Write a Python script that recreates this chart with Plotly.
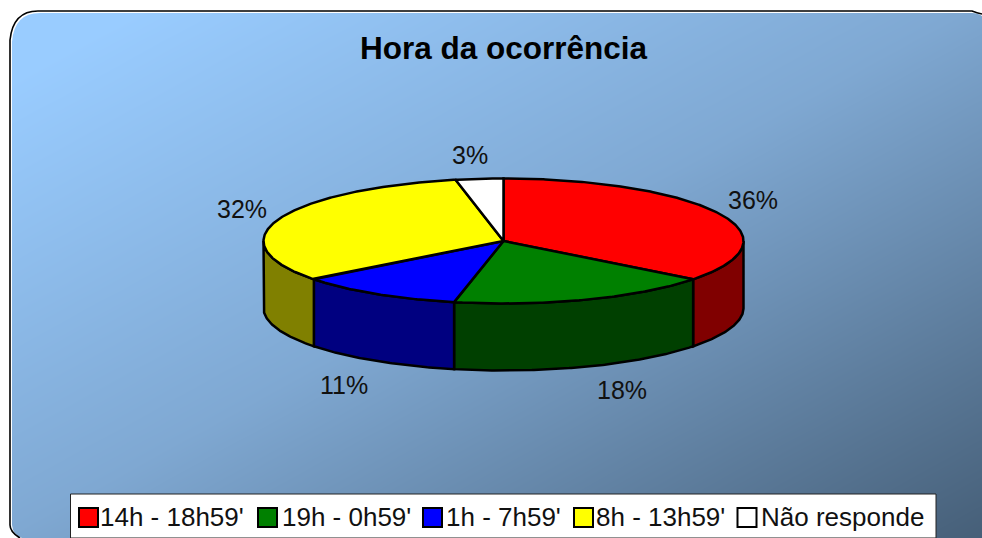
import math
import numpy as np
import plotly.graph_objects as go

# ---- data ----
categories = ["14h - 18h59'", "19h - 0h59'", "1h - 7h59'", "8h - 13h59'", "Não responde"]
values = [35.5, 17.8, 11.2, 32.3, 3.2]
title_text = "Hora da ocorrência"

# ---- styles / layout ----
top_colors = ["#FF0000", "#008000", "#0000FF", "#FFFF00", "#FFFFFF"]
side_colors = ["#800000", "#004000", "#000080", "#808000", "#808080"]
W, H = 982, 538
CX, CY, RX, RY, DEPTH = 503.5, 241, 240, 62.5, 67
LW = 2.5
label_xy = [(753, 200), (622, 390), (344, 385), (242, 209), (470, 155)]
swatch_x = [79, 258, 423, 574, 737.5]
legend_text_x = [101, 283, 447, 597, 762]
FONT = "Liberation Sans"


def pt(deg):
    a = math.radians(deg)
    return CX + RX * math.sin(a), CY - RY * math.cos(a)


def arc(a0, a1):
    n = max(2, int(abs(a1 - a0) * 2))
    return [pt(a) for a in np.linspace(a0, a1, n)]


fig = go.Figure()

# background gradient (light top-left to dark bottom-right)
gx = np.linspace(0, W, 60)
gy = np.linspace(0, H, 40)
gz = (gx[None, :] / W + gy[:, None] / H) / 2
fig.add_trace(go.Heatmap(
    x=gx, y=gy, z=gz, zmin=0, zmax=1, zsmooth="best", showscale=False, hoverinfo="skip",
    colorscale=[[0, "#99CCFF"], [0.08, "#99CCFF"], [0.5, "#7FA8D2"], [1, "#465F78"]],
))

total = sum(values)
bounds = [0.0]
for v in values:
    bounds.append(bounds[-1] + v / total * 360)

# side walls on the front half of the disc
for i in range(len(values)):
    a0, a1 = max(bounds[i], 90), min(bounds[i + 1], 270)
    if a1 <= a0:
        continue
    edge = arc(a0, a1)
    xs = [p[0] for p in edge] + [p[0] for p in reversed(edge)]
    ys = [p[1] for p in edge] + [p[1] + DEPTH for p in reversed(edge)]
    fig.add_trace(go.Scatter(
        x=xs + xs[:1], y=ys + ys[:1], mode="lines", fill="toself", fillcolor=side_colors[i],
        line=dict(color="black", width=LW), hoverinfo="skip", showlegend=False,
    ))

# top slices
for i, name in enumerate(categories):
    edge = arc(bounds[i], bounds[i + 1])
    xs = [CX] + [p[0] for p in edge] + [CX]
    ys = [CY] + [p[1] for p in edge] + [CY]
    fig.add_trace(go.Scatter(
        x=xs, y=ys, mode="lines", fill="toself", fillcolor=top_colors[i],
        line=dict(color="black", width=LW), name=name, hoverinfo="name", showlegend=False,
    ))

shapes = [
    # white outside the rounded chart area
    dict(type="path", xref="x", yref="y", layer="above", fillrule="evenodd", fillcolor="white",
         line=dict(width=0),
         path=f"M0,0 H{W} V{H} H0 Z M12,42 Q14,13 40,13 H972 Q978,13 {W},16 V{H} H22 Q13,535 12,525 Z"),
    # outline
    dict(type="path", xref="x", yref="y", layer="above", line=dict(color="black", width=1.6),
         path=f"M20,{H} Q10,532 10,525 V40 Q13,11 38,11 H972 Q977,13 {W},14"),
    # legend box
    dict(type="rect", xref="x", yref="y", layer="above", x0=70.5, x1=936, y0=494, y1=538,
         fillcolor="white", line=dict(color="#222222", width=1)),
]
for sx, col in zip(swatch_x, top_colors):
    shapes.append(dict(type="rect", xref="x", yref="y", layer="above", x0=sx, x1=sx + 19, y0=508, y1=527,
                       fillcolor=col, line=dict(color="black", width=2)))

annotations = []
for v, (lx, ly) in zip(values, label_xy):
    annotations.append(dict(x=lx, y=ly, xref="x", yref="y", text=f"{v:.0f}%", showarrow=False,
                            xanchor="center", yanchor="middle",
                            font=dict(family=FONT, size=25, color="#111111")))
for name, tx in zip(categories, legend_text_x):
    annotations.append(dict(x=tx, y=517, xref="x", yref="y", text=name, showarrow=False,
                            xanchor="left", yanchor="middle", xshift=-3,
                            font=dict(family=FONT, size=26, color="#111111")))

fig.update_layout(
    width=W, height=H, margin=dict(l=0, r=0, t=0, b=0),
    paper_bgcolor="white", plot_bgcolor="white", showlegend=False,
    title=dict(text=title_text, x=CX / W, y=1 - 48 / H, xanchor="center", yanchor="middle",
               font=dict(family=FONT, size=31.5, color="black", weight="bold")),
    xaxis=dict(range=[0, W], visible=False, fixedrange=True),
    yaxis=dict(range=[H, 0], visible=False, fixedrange=True),
    shapes=shapes, annotations=annotations,
)
fig.write_html("out.html", config=dict(displayModeBar=False), default_width=W, default_height=H,
               post_script="document.body.style.margin='0';document.body.style.overflow='hidden';")
